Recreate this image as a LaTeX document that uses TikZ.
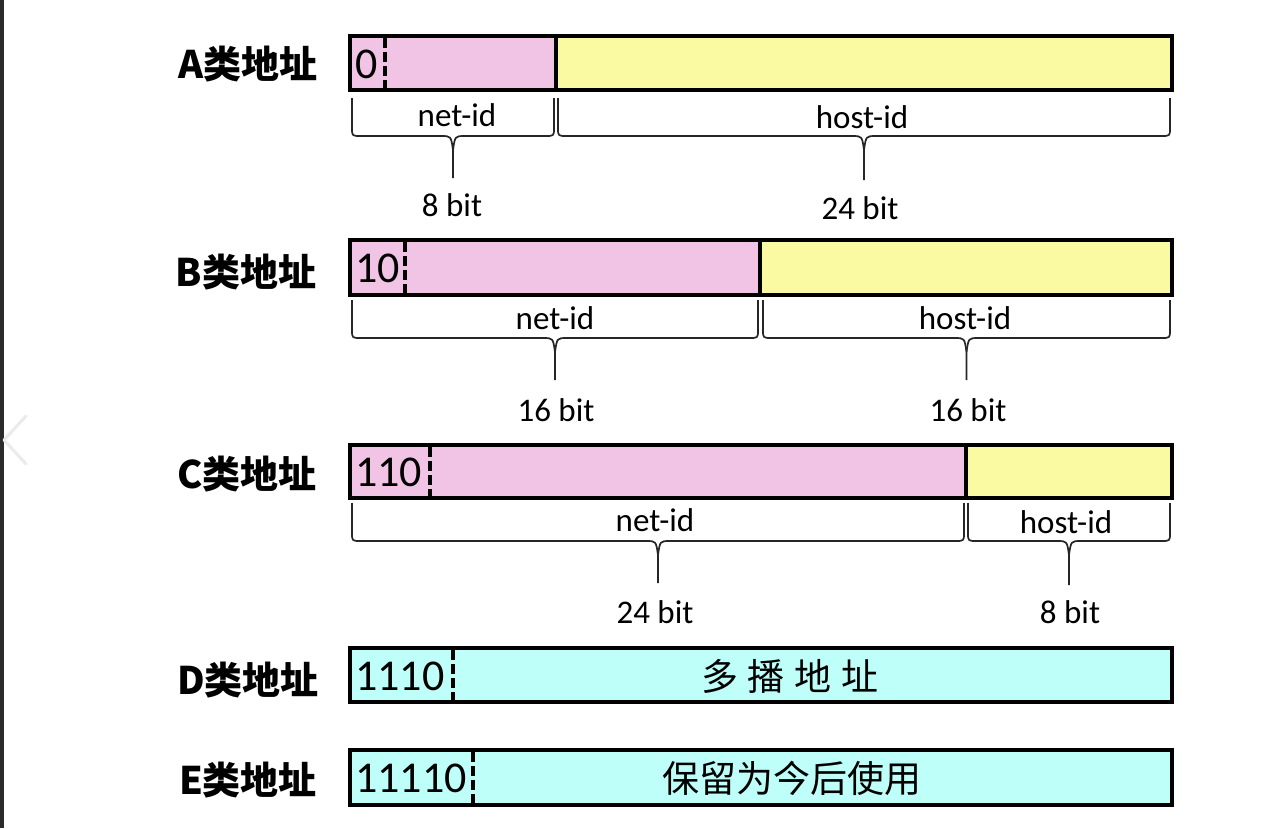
\documentclass[tikz,border=0pt]{standalone}
\usepackage{fontspec}
\setmainfont{Carlito}
\newfontfamily\cjk{Noto Sans CJK SC}
\definecolor{pinkc}{RGB}{241,196,230}
\definecolor{yellowc}{RGB}{250,250,162}
\definecolor{cyanc}{RGB}{190,255,250}
\newcommand{\ipbrace}[5]{%
  \pgfmathsetmacro\xc{(#1+#2)/2}%
  \draw[brc] (#1,#3) -- (#1,#4-8) .. controls (#1,#4) .. (#1+9,#4) -- (\xc-12,#4) .. controls (\xc-2,#4) .. (\xc,#4+14) -- (\xc,#5);
  \draw[brc] (#2,#3) -- (#2,#4-8) .. controls (#2,#4) .. (#2-9,#4) -- (\xc+12,#4) .. controls (\xc+2,#4) .. (\xc,#4+14);
}
\begin{document}
\begin{tikzpicture}[x=1pt,y=-1pt,
  boxframe/.style={line width=4.5pt, draw=black},
  divider/.style={line width=3.6pt, dash pattern=on 10pt off 4pt},
  brc/.style={draw=black!85, line width=1.7pt, line join=round},
  lbl/.style={font=\cjk\bfseries\fontsize{38}{42}\selectfont, inner sep=0pt},
  bits/.style={font=\fontsize{33}{38}\selectfont, inner sep=0pt},
  pfx/.style={font=\fontsize{44}{48}\selectfont, anchor=west, inner sep=0pt},
  cjktext/.style={font=\cjk\fontsize{37}{40}\selectfont, inner sep=0pt}]
\useasboundingbox (0,0) rectangle (1283,828);
\fill[white] (0,0) rectangle (1283,828);
\fill[black!83] (0,0) rectangle (4,828);
\draw[black!8, line width=3pt, line cap=round, line join=round] (26,416) -- (4,440) -- (26,464);

% ---------- A ----------
\node[lbl] (la) at (248,64) {A类地址};
\fill[pinkc] (350,36) rectangle (556,90);
\fill[yellowc] (556,36) rectangle (1172,90);
\draw[divider] (385,38) -- (385,88);
\draw[line width=4.5pt] (556,36) -- (556,90);
\draw[boxframe] (350,36) rectangle (1172,90);
\node[pfx] (pa) at (355,64) {0};
\ipbrace{352}{554}{98}{136}{178}
\ipbrace{558}{1170}{98}{136}{180}
\node[bits] (na) at (457,115) {net-id};
\node[bits] (ha) at (862,117) {host-id};
\node[bits] (nba) at (452,205) {8 bit};
\node[bits] (hba) at (860,208) {24 bit};

% ---------- B ----------
\node[lbl] (lb) at (246,272) {B类地址};
\fill[pinkc] (350,240) rectangle (760,295);
\fill[yellowc] (760,240) rectangle (1172,295);
\draw[divider] (405,242) -- (405,293);
\draw[line width=4.5pt] (760,240) -- (760,295);
\draw[boxframe] (350,240) rectangle (1172,295);
\node[pfx] (pb) at (355,268) {10};
\ipbrace{352}{758}{300}{338}{380}
\ipbrace{763}{1170}{300}{338}{380}
\node[bits] (nb) at (555,318) {net-id};
\node[bits] (hb) at (965,318) {host-id};
\node[bits] (nbb) at (556,410) {16 bit};
\node[bits] (hbb) at (968,410) {16 bit};

% ---------- C ----------
\node[lbl] (lc) at (247,474) {C类地址};
\fill[pinkc] (350,445) rectangle (966,498);
\fill[yellowc] (966,445) rectangle (1172,498);
\draw[divider] (430,447) -- (430,496);
\draw[line width=4.5pt] (966,445) -- (966,498);
\draw[boxframe] (350,445) rectangle (1172,498);
\node[pfx] (pc) at (355,472) {110};
\ipbrace{352}{964}{503}{541}{583}
\ipbrace{968}{1170}{503}{541}{585}
\node[bits] (nc) at (655,520) {net-id};
\node[bits] (hc) at (1066,522) {host-id};
\node[bits] (nbc) at (655,612) {24 bit};
\node[bits] (hbc) at (1070,612) {8 bit};

% ---------- D ----------
\node[lbl] (ld) at (248,680) {D类地址};
\fill[cyanc] (350,648) rectangle (1172,702);
\draw[divider] (453,650) -- (453,700);
\draw[boxframe] (350,648) rectangle (1172,702);
\node[pfx] (pd) at (355,676) {1110};
\node[cjktext] (td) at (790,676) {多\hspace{10pt}播\hspace{10pt}地\hspace{10pt}址};

% ---------- E ----------
\node[lbl] (le) at (248,780) {E类地址};
\fill[cyanc] (350,750) rectangle (1172,805);
\draw[divider] (473,752) -- (473,803);
\draw[boxframe] (350,750) rectangle (1172,805);
\node[pfx] (pe) at (355,778) {11110};
\node[cjktext] (te) at (792,778) {保留为今后使用};
\end{tikzpicture}
\end{document}
